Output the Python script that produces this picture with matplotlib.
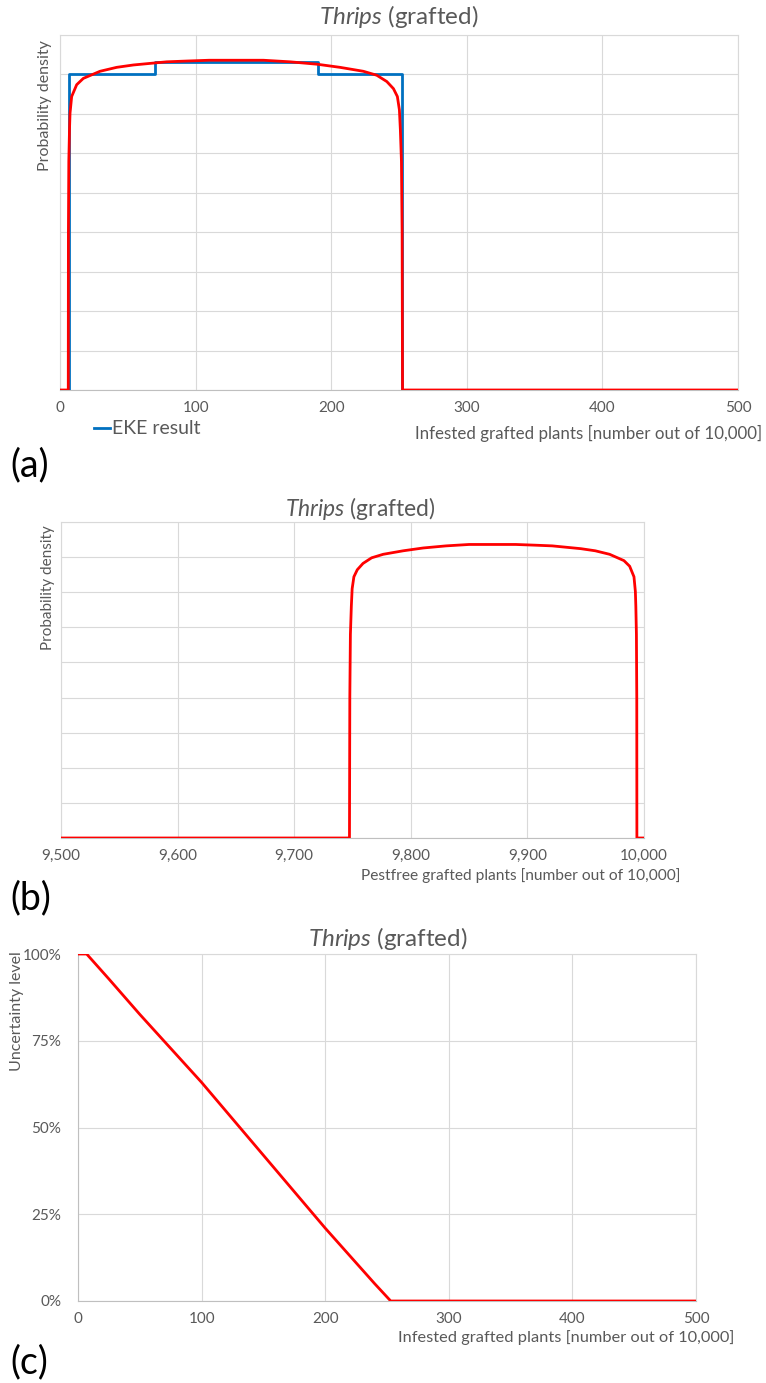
import numpy as np
import matplotlib
matplotlib.use("Agg")
import matplotlib.pyplot as plt
from matplotlib.lines import Line2D

plt.rcParams['font.family'] = ['Lato', 'DejaVu Sans']
plt.rcParams['mathtext.fontset'] = 'custom'
plt.rcParams['mathtext.rm'] = 'Lato'
plt.rcParams['mathtext.it'] = 'Lato:italic'

# ---------------- data ----------------
# EKE result (blue step), infested plants out of 10,000
eke_x = [0, 7, 7, 70, 70, 190, 190, 252, 252, 500]
eke_d = [0, 0, 0.0040, 0.0040, 0.00416, 0.00416, 0.0040, 0.0040, 0, 0]

# fitted distribution (red), infested plants
fit_x = [0, 6.1, 6.2, 6.5, 7.0, 7.4, 8.6, 12.3, 17.2, 29.5, 41.8, 54.1, 66.4,
         78.7, 93.5, 110, 130, 150, 169.7, 189.4, 206.5, 223.7, 233.6, 241.0,
         245.9, 248.8, 250.3, 251.0, 251.8, 252.3, 252.6, 500]
fit_d = [0, 0, 0.0020, 0.0029, 0.0033, 0.00351, 0.00372, 0.00387, 0.00395,
         0.00404, 0.00409, 0.00412, 0.00414, 0.00416, 0.00417, 0.00418,
         0.00418, 0.00418, 0.00416, 0.00413, 0.00409, 0.00404, 0.00399,
         0.00391, 0.00382, 0.00372, 0.00355, 0.00330, 0.0029, 0.0020, 0, 0]

# uncertainty level (1 - CDF), infested plants
unc_x = [0, 7, 25, 50, 100, 150, 200, 225, 240, 253, 500]
unc_y = [1.0, 1.0, 0.928, 0.826, 0.63, 0.42, 0.21, 0.11, 0.05, 0.0, 0.0]

total = 10000
xticks_a = [0, 100, 200, 300, 400, 500]
xticks_b = [9500, 9600, 9700, 9800, 9900, 10000]
yticks_c = [0, 0.25, 0.5, 0.75, 1.0]

# ---------------- layout ----------------
W, H = 766, 1383
fig = plt.figure(figsize=(W / 100, H / 100), dpi=100)

def box(l, t, r, b):
    return [l / W, 1 - b / H, (r - l) / W, (b - t) / H]

def fx(px):
    return px / W

def fy(py):
    return 1 - py / H

GRID = '#D9D9D9'
AXC = '#BFBFBF'
TXT = '#595959'
RED = '#FF0000'
BLUE = '#0070C0'
LW = 2.0

def style(ax):
    ax.grid(True, color=GRID, lw=0.8)
    ax.set_axisbelow(True)
    for s in ['top', 'right', 'left']:
        ax.spines[s].set_color(GRID)
        ax.spines[s].set_linewidth(0.8)
    ax.spines['bottom'].set_color(AXC)
    ax.spines['bottom'].set_linewidth(0.8)
    ax.tick_params(length=0, labelsize=11, labelcolor=TXT, pad=8)

title = r'$\mathit{Thrips}$ (grafted)'

# ---- (a) ----
axa = fig.add_axes(box(60, 35, 738, 390))
style(axa)
axa.plot(eke_x, eke_d, color=BLUE, lw=LW, zorder=3)
axa.plot(fit_x, fit_d, color=RED, lw=LW, zorder=4)
axa.set_xlim(0, 500)
axa.set_ylim(0, 0.0045)
axa.set_xticks(xticks_a)
axa.set_yticks(np.arange(0, 0.00451, 0.0005))
axa.set_yticklabels([])
fig.text(fx(399), fy(17), title, ha='center', va='center', fontsize=17.5, color=TXT)
fig.text(fx(45), fy(106), 'Probability density', rotation=90, ha='center', va='center',
         fontsize=11.5, color=TXT)
fig.text(fx(762), fy(433), 'Infested grafted plants [number out of 10,000]', ha='right',
         va='center', fontsize=12.2, color=TXT)
fig.legend(handles=[Line2D([], [], color=BLUE, lw=LW)], labels=['EKE result'],
           loc='center left', bbox_to_anchor=(fx(94), fy(429)), frameon=False,
           handlelength=0.8, handletextpad=0.1, borderpad=0, borderaxespad=0,
           fontsize=14, labelcolor=TXT)
fig.text(fx(10), fy(465), '(a)', ha='left', va='center', fontsize=27, color='black')

# ---- (b) ----
axb = fig.add_axes(box(61, 522, 644, 838))
style(axb)
pf_x = total - np.array(fit_x)
axb.plot(pf_x, fit_d, color=RED, lw=LW, zorder=4)
axb.set_xlim(9500, 10000)
axb.set_ylim(0, 0.0045)
axb.set_xticks(xticks_b)
axb.set_xticklabels([f'{v:,}' for v in xticks_b])
axb.set_yticks(np.arange(0, 0.00451, 0.0005))
axb.set_yticklabels([])
fig.text(fx(360), fy(509), title, ha='center', va='center', fontsize=16.5, color=TXT)
fig.text(fx(48), fy(588), 'Probability density', rotation=90, ha='center', va='center',
         fontsize=11, color=TXT)
fig.text(fx(680), fy(876), 'Pestfree grafted plants [number out of 10,000]', ha='right',
         va='center', fontsize=11.2, color=TXT)
fig.text(fx(10), fy(898), '(b)', ha='left', va='center', fontsize=27, color='black')

# ---- (c) ----
axc = fig.add_axes(box(78, 954, 696, 1301))
style(axc)
axc.spines['left'].set_color(AXC)
axc.plot(unc_x, unc_y, color=RED, lw=LW, zorder=4)
axc.set_xlim(0, 500)
axc.set_ylim(0, 1.0)
axc.set_xticks(xticks_a)
axc.set_yticks(yticks_c)
axc.set_yticklabels([f'{int(v * 100)}%' for v in yticks_c])
axc.tick_params(axis='y', pad=12)
fig.text(fx(388), fy(939), title, ha='center', va='center', fontsize=17.5, color=TXT)
fig.text(fx(17), fy(1011), 'Uncertainty level', rotation=90, ha='center', va='center',
         fontsize=11.5, color=TXT)
fig.text(fx(734), fy(1338), 'Infested grafted plants [number out of 10,000]', ha='right',
         va='center', fontsize=11.8, color=TXT)
fig.text(fx(10), fy(1362), '(c)', ha='left', va='center', fontsize=27, color='black')

fig.savefig('out.png', dpi=100)
